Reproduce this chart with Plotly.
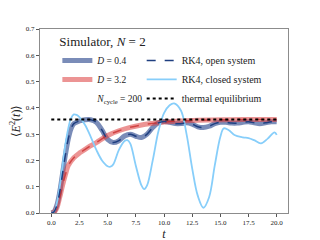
import plotly.graph_objects as go

# ---- data ----
t_blue = [0, 0.25, 0.5, 0.75, 1.0, 1.25, 1.5, 1.75, 2.0, 2.5, 3.0, 3.5, 4.0, 4.5, 5.0, 5.5,
          6.0, 6.5, 7.0, 7.5, 8.0, 8.5, 9.0, 9.5, 10.0, 10.5, 11.0, 11.5, 12.0, 12.5,
          13.0, 13.5, 14.0, 14.5, 15.0, 15.5, 16.0, 16.5, 17.0, 17.5, 18.0, 18.5, 19.0,
          19.5, 20.0]
e_blue = [0.0, 0.005, 0.03, 0.08, 0.15, 0.22, 0.28, 0.32, 0.34, 0.35, 0.355, 0.355, 0.345,
          0.315, 0.28, 0.268, 0.275, 0.293, 0.30, 0.292, 0.287, 0.30, 0.325, 0.343, 0.348,
          0.345, 0.34, 0.34, 0.343, 0.338, 0.328, 0.325, 0.33, 0.34, 0.345, 0.345, 0.342,
          0.342, 0.345, 0.347, 0.343, 0.34, 0.343, 0.347, 0.347]

t_red = [0, 0.25, 0.5, 0.75, 1.0, 1.25, 1.5, 2.0, 2.5, 3.0, 3.5, 4.0, 5.0, 6.0, 7.0, 8.0,
         9.0, 10.0, 12.0, 14.0, 16.0, 18.0, 20.0]
e_red = [0.0, 0.003, 0.02, 0.06, 0.105, 0.145, 0.18, 0.21, 0.228, 0.242, 0.256, 0.268,
         0.295, 0.313, 0.326, 0.335, 0.341, 0.346, 0.351, 0.354, 0.355, 0.356, 0.356]

t_closed = [0, 0.25, 0.5, 0.75, 1.0, 1.25, 1.5, 1.75, 2.0, 2.25, 2.5, 3.0, 3.5, 4.0, 4.5,
            5.0, 5.25, 5.5, 6.0, 6.5, 6.75, 7.0, 7.5, 8.0, 8.25, 8.5, 9.0, 9.5, 10.0, 10.5,
            10.9, 11.5, 12.0, 12.5, 13.0, 13.5, 14.0, 14.5, 15.0, 15.3, 15.75, 16.25, 17.0,
            17.5, 18.0, 18.6, 19.2, 19.8, 20.0]
e_closed = [0.0, 0.005, 0.04, 0.10, 0.18, 0.26, 0.32, 0.36, 0.375, 0.373, 0.365, 0.335,
            0.29, 0.24, 0.20, 0.178, 0.176, 0.185, 0.24, 0.274, 0.277, 0.265, 0.18, 0.105,
            0.091, 0.105, 0.20, 0.31, 0.38, 0.41, 0.417, 0.39, 0.30, 0.17, 0.065, 0.02,
            0.06, 0.18, 0.29, 0.322, 0.315, 0.297, 0.288, 0.285, 0.277, 0.265, 0.283,
            0.307, 0.297]

t_eq = [0, 20]
e_eq = [0.356, 0.356]

x_ticks = [0, 2.5, 5, 7.5, 10, 12.5, 15, 17.5, 20]
x_ticklabels = ["0.0", "2.5", "5.0", "7.5", "10.0", "12.5", "15.0", "17.5", "20.0"]
y_ticks = [0, 0.1, 0.2, 0.3, 0.4, 0.5, 0.6, 0.7]
y_ticklabels = ["0.0", "0.1", "0.2", "0.3", "0.4", "0.5", "0.6", "0.7"]

FONT = "Liberation Serif"

fig = go.Figure()
# simulator bands
fig.add_trace(go.Scatter(x=t_blue, y=e_blue, mode="lines", line_shape="spline",
                         line=dict(color="rgba(40,70,140,0.62)", width=5),
                         name="<i>D</i> = 0.4", legend="legend", legendrank=1))
fig.add_trace(go.Scatter(x=t_red, y=e_red, mode="lines", line_shape="spline",
                         line=dict(color="rgba(220,60,60,0.55)", width=5),
                         name="<i>D</i> = 3.2", legend="legend", legendrank=2))
fig.add_trace(go.Scatter(x=[None], y=[None], mode="lines",
                         line=dict(color="rgba(0,0,0,0)", width=1),
                         name="<i>N</i><sub>cycle</sub> = 200", legend="legend", legendrank=3))
# RK4 open (D = 3.2)
fig.add_trace(go.Scatter(x=t_red, y=e_red, mode="lines", line_shape="spline",
                         line=dict(color="rgba(200,40,40,0.75)", width=1.5, dash="dash"),
                         showlegend=False))
# RK4 closed
fig.add_trace(go.Scatter(x=t_closed, y=e_closed, mode="lines", line_shape="spline",
                         line=dict(color="#87cefa", width=1.8),
                         name="RK4, closed system", legend="legend2", legendrank=2))
# RK4 open (D = 0.4)
fig.add_trace(go.Scatter(x=t_blue, y=e_blue, mode="lines", line_shape="spline",
                         line=dict(color="#1f3f80", width=1.5, dash="dash"),
                         name="RK4, open system", legend="legend2", legendrank=1))
fig.add_trace(go.Scatter(x=t_eq, y=e_eq, mode="lines",
                         line=dict(color="black", width=2, dash="dot"),
                         name="thermal equilibrium", legend="legend2", legendrank=3))

axis_common = dict(showline=True, mirror=True, linecolor="#8c8c8c", linewidth=1,
                   ticks="outside", ticklen=3, tickcolor="#555", tickwidth=0.8,
                   showgrid=False, zeroline=False, automargin=False,
                   tickfont=dict(family=FONT, size=7, color="#222"))

fig.update_layout(
    width=320, height=240,
    margin=dict(l=32, r=40, t=21, b=35),
    paper_bgcolor="white", plot_bgcolor="white",
    font=dict(family=FONT, color="#222"),
    xaxis=dict(range=[-1, 21], tickvals=x_ticks, ticktext=x_ticklabels,
               title=dict(text="<i>t</i>", font=dict(family=FONT, size=12), standoff=2),
               **axis_common),
    yaxis=dict(range=[0, 0.7], tickvals=y_ticks, ticktext=y_ticklabels,
               title=dict(text="⟨<i>E</i><sup>2</sup>(<i>t</i>)⟩", font=dict(family=FONT, size=12), standoff=6),
               **axis_common),
    legend=dict(x=0.07, y=1.0, xanchor="left", yanchor="top",
                bgcolor="rgba(0,0,0,0)", itemwidth=30,
                title=dict(text="Simulator, <i>N</i> = 2", font=dict(family=FONT, size=13)),
                font=dict(family=FONT, size=9.5), traceorder="normal"),
    legend2=dict(x=0.41, y=0.908, xanchor="left", yanchor="top",
                 bgcolor="rgba(0,0,0,0)", itemwidth=30,
                 font=dict(family=FONT, size=10), traceorder="normal"),
)

fig.write_html("out.html")
